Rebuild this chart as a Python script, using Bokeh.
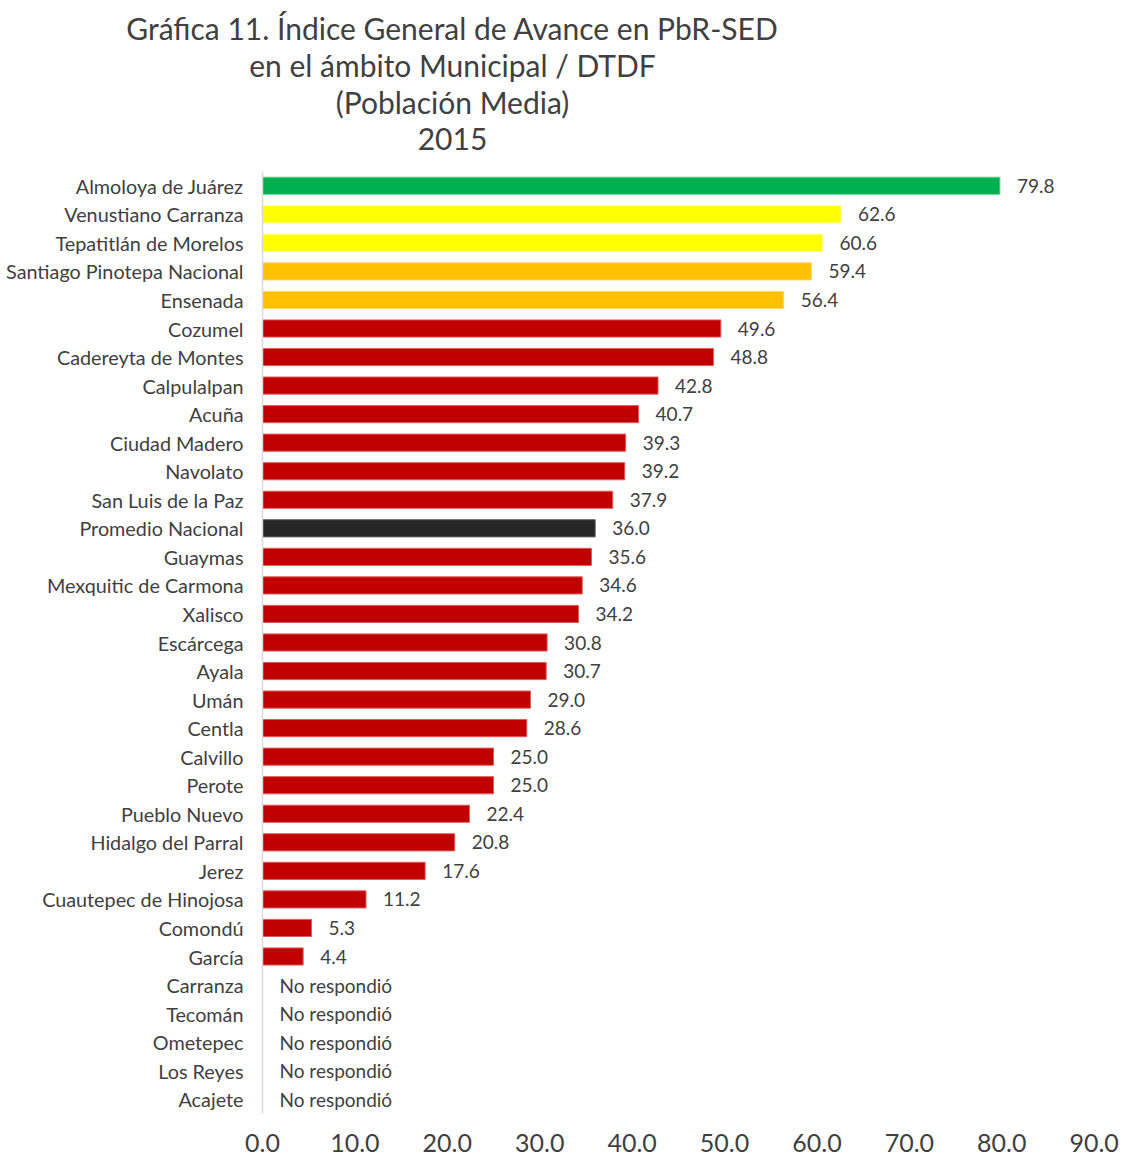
from bokeh.plotting import figure
from bokeh.models import ColumnDataSource, FactorRange, Range1d, FixedTicker, NumeralTickFormatter
from bokeh.core.properties import value
from bokeh.embed import file_html
from bokeh.resources import INLINE

# ---- data ----
title_lines = ["Gráfica 11. Índice General de Avance en PbR-SED",
               "en el ámbito Municipal / DTDF",
               "(Población Media)",
               "2015"]

municipios = ["Almoloya de Juárez", "Venustiano Carranza", "Tepatitlán de Morelos",
              "Santiago Pinotepa Nacional", "Ensenada", "Cozumel", "Cadereyta de Montes",
              "Calpulalpan", "Acuña", "Ciudad Madero", "Navolato", "San Luis de la Paz",
              "Promedio Nacional", "Guaymas", "Mexquitic de Carmona", "Xalisco",
              "Escárcega", "Ayala", "Umán", "Centla", "Calvillo", "Perote",
              "Pueblo Nuevo", "Hidalgo del Parral", "Jerez", "Cuautepec de Hinojosa",
              "Comondú", "García", "Carranza", "Tecomán", "Ometepec", "Los Reyes", "Acajete"]

valores = [79.8, 62.6, 60.6, 59.4, 56.4, 49.6, 48.8, 42.8, 40.7, 39.3, 39.2, 37.9,
           36.0, 35.6, 34.6, 34.2, 30.8, 30.7, 29.0, 28.6, 25.0, 25.0, 22.4, 20.8,
           17.6, 11.2, 5.3, 4.4, None, None, None, None, None]

grupo = ["verde", "amarillo", "amarillo", "naranja", "naranja"] + ["rojo"] * 7 + \
        ["promedio"] + ["rojo"] * 15 + ["sin"] * 5

x_ticks = [0, 10, 20, 30, 40, 50, 60, 70, 80, 90]

fill_map = {"verde": "#00B050", "amarillo": "#FFFF00", "naranja": "#FFC000",
            "rojo": "#C00000", "promedio": "#262626", "sin": "#FFFFFF"}
line_map = {"verde": "#5fcf8a", "amarillo": "#ffff80", "naranja": "#ffd566",
            "rojo": "#e05a5a", "promedio": "#5a5a5a", "sin": "#FFFFFF"}

FONT = "Lato"
TXT = "#404040"

W = 1134
TH = 171

# ---- title figure (separate root, frame covers whole figure) ----
tf = figure(width=W, height=TH, x_range=Range1d(0, W), y_range=Range1d(0, TH),
            x_axis_type=None, y_axis_type=None,
            output_backend="svg", toolbar_location=None, title=None,
            min_border_left=0, min_border_right=0, min_border_top=0, min_border_bottom=0)
tf.grid.visible = False
tf.outline_line_color = None
tsrc = ColumnDataSource(dict(x=[452] * len(title_lines),
                             y=[TH - 27 - 37 * i for i in range(len(title_lines))],
                             t=title_lines))
tf.text(x="x", y="y", text="t", source=tsrc, text_align="center", text_baseline="middle",
        text_font=value(FONT), text_font_size="30px", text_color=TXT)

# ---- main figure ----
vals = [v if v is not None else 0 for v in valores]
labels = ["%.1f" % v if v is not None else "No respondió" for v in valores]
src = ColumnDataSource(dict(
    y=municipios, v=vals, lab=labels,
    fill=[fill_map[g] for g in grupo], line=[line_map[g] for g in grupo],
    alpha=[0 if v is None else 1 for v in valores]))

p = figure(width=W, height=1001, y_range=FactorRange(factors=list(reversed(municipios))),
           x_range=Range1d(0, 93.5), output_backend="svg", toolbar_location=None, title=None,
           min_border_left=262, min_border_right=8, min_border_top=0, min_border_bottom=59)
p.hbar(y="y", left=0, right="v", height=0.6, source=src, fill_color="fill",
       line_color="line", line_width=1, fill_alpha="alpha", line_alpha="alpha")
p.text(x="v", y="y", text="lab", source=src, x_offset=17, text_baseline="middle",
       text_font=value(FONT), text_font_size="19px", text_color=TXT)

p.grid.visible = False
p.outline_line_color = None

p.xaxis.ticker = FixedTicker(ticks=x_ticks)
p.xaxis.formatter = NumeralTickFormatter(format="0.0")
p.xaxis.axis_line_color = None
p.xaxis.major_tick_line_color = None
p.xaxis.minor_tick_line_color = None
p.xaxis.major_tick_out = 0
p.xaxis.major_label_standoff = 20
p.xaxis.major_label_text_font = FONT
p.xaxis.major_label_text_font_size = "25px"
p.xaxis.major_label_text_color = TXT

p.yaxis.axis_line_color = "#d9d9d9"
p.yaxis.axis_line_width = 1.5
p.yaxis.major_tick_line_color = None
p.yaxis.minor_tick_line_color = None
p.yaxis.major_tick_out = 0
p.yaxis.major_label_standoff = 19
p.yaxis.major_label_text_font = FONT
p.yaxis.major_label_text_font_size = "19.8px"
p.yaxis.major_label_text_color = TXT

open("out.html", "w").write(file_html([tf, p], INLINE))
